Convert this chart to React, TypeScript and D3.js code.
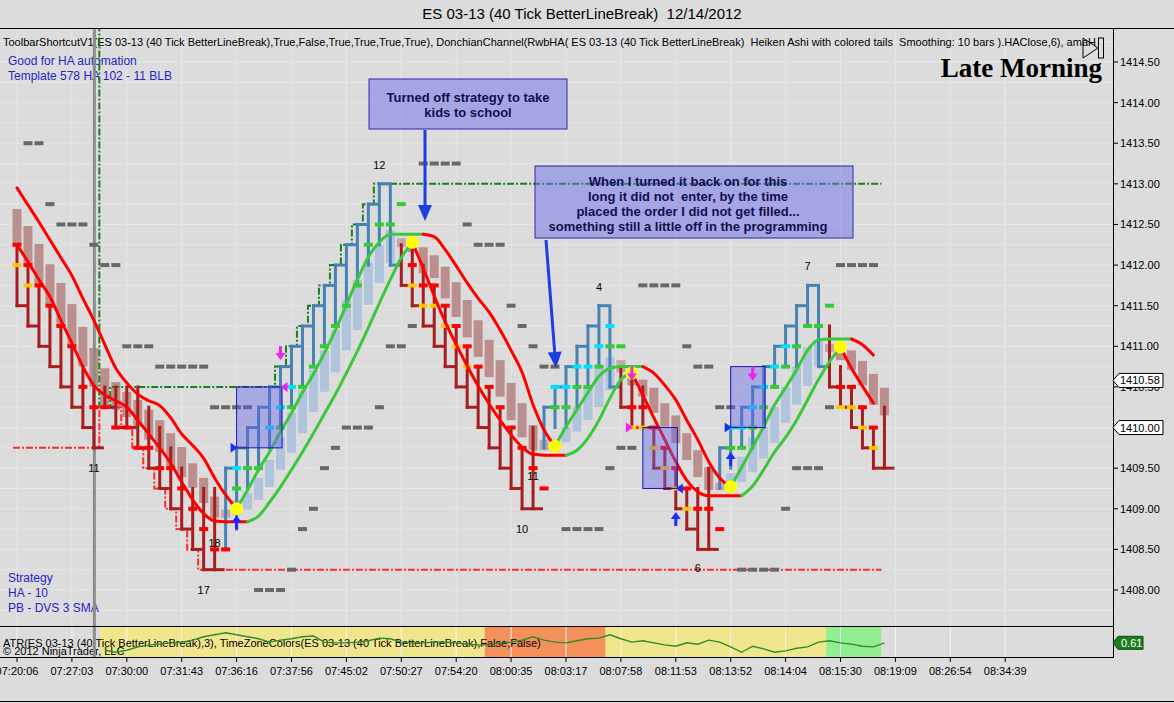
import React, { useEffect } from "react";
import * as d3 from "d3";

const FONT = "'Liberation Sans', Arial, Helvetica, sans-serif";

const chartTitle = "ES 03-13 (40 Tick BetterLineBreak)  12/14/2012";
const infoLine =
  "ToolbarShortcutV1(ES 03-13 (40 Tick BetterLineBreak),True,False,True,True,True,True), DonchianChannel(RwbHA( ES 03-13 (40 Tick BetterLineBreak)  Heiken Ashi with colored tails  Smoothing: 10 bars ).HAClose,6), amaH";
const indicatorLine =
  "ATR(ES 03-13 (40 Tick BetterLineBreak),3), TimeZoneColors(ES 03-13 (40 Tick BetterLineBreak),False,False)";

const timeLabels = [
  "07:20:06", "07:27:03", "07:30:00", "07:31:43", "07:36:16", "07:37:56", "07:45:02",
  "07:50:27", "07:54:20", "08:00:35", "08:03:17", "08:07:58", "08:11:53", "08:13:52",
  "08:14:04", "08:15:30", "08:19:09", "08:26:54", "08:34:39",
];
const priceTicks = [1408, 1408.5, 1409, 1409.5, 1410, 1410.5, 1411, 1411.5, 1412, 1412.5, 1413, 1413.5, 1414, 1414.5];

// Line break bars
const lbHigh = [
  1412.25, 1412.0, 1411.75, 1411.5, 1411.25, 1411.0, 1410.75, 1410.5, 1410.5, 1410.5,
  1410.5, 1410.5, 1410.25, 1410.0, 1409.75, 1409.5, 1409.25, 1409.25, 1409.25, 1409.5,
  1409.75, 1410.0, 1410.25, 1410.5, 1410.75, 1411.0, 1411.25, 1411.5, 1411.75, 1412.0,
  1412.25, 1412.5, 1412.75, 1413.0, 1413.0, 1412.25, 1412.25, 1412.0, 1411.75, 1411.5,
  1411.25, 1411.0, 1410.75, 1410.5, 1410.25, 1410.0, 1409.75, 1410.0, 1410.25, 1410.5,
  1410.75, 1411.0, 1411.25, 1411.5, 1411.5, 1410.75, 1410.75, 1410.5, 1410.0, 1409.75,
  1409.5, 1409.25, 1409.25, 1409.5, 1409.75, 1410.0, 1410.25, 1410.5, 1410.75, 1411.0,
  1411.25, 1411.5, 1411.75, 1411.75, 1411.25, 1410.75, 1410.5, 1410.25, 1410.0, 1410.25,
];
const lbLow = [
  1411.5, 1411.25, 1411.0, 1410.75, 1410.5, 1410.25, 1410.0, 1409.75, 1410.25, 1410.0,
  1410.0, 1409.75, 1409.5, 1409.25, 1409.0, 1408.75, 1408.5, 1408.25, 1408.25, 1408.5,
  1408.75, 1409.25, 1409.5, 1409.75, 1410.0, 1410.25, 1410.5, 1410.75, 1411.0, 1411.25,
  1411.5, 1411.75, 1412.0, 1412.25, 1412.0, 1411.75, 1411.5, 1411.25, 1411.0, 1410.75,
  1410.5, 1410.25, 1410.0, 1409.75, 1409.5, 1409.25, 1409.0, 1409.0, 1409.75, 1410.0,
  1410.0, 1410.25, 1410.5, 1410.75, 1410.5, 1410.25, 1410.0, 1410.0, 1409.5, 1409.25,
  1409.0, 1408.75, 1408.5, 1408.5, 1409.25, 1409.5, 1409.75, 1409.75, 1410.0, 1410.5,
  1410.75, 1410.75, 1411.25, 1410.75, 1410.5, 1410.25, 1410.0, 1409.75, 1409.5, 1409.5,
];
// d = down bar, u = up bar, r = up-coloured bar closing at its low
const lbType =
  "ddddddddddddddddddd" + "uuuuuuuuuuuuuuur" + "ddddddddddddd" + "uuuuuur" + "ddddddddd" + "uuuuuuuuur" + "dddddd";

// Heiken Ashi bodies
const haTop = [
  1412.69, 1412.48, 1412.26, 1412.01, 1411.78, 1411.52, 1411.24, 1410.98, 1410.73, 1410.56,
  1410.44, 1410.34, 1410.22, 1410.09, 1409.93, 1409.76, 1409.56, 1409.38, 1409.15, 1408.99,
  1409.11, 1409.19, 1409.38, 1409.6, 1409.88, 1410.18, 1410.46, 1410.71, 1410.95, 1411.2,
  1411.57, 1411.82, 1412.03, 1412.25, 1412.43, 1412.33, 1412.27, 1412.22, 1412.12, 1411.98,
  1411.79, 1411.57, 1411.32, 1411.08, 1410.83, 1410.55, 1410.3, 1410.03, 1409.85, 1409.85,
  1410.01, 1410.25, 1410.5, 1410.75, 1410.87, 1410.83, 1410.67, 1410.59, 1410.49, 1410.3,
  1410.15, 1409.93, 1409.72, 1409.51, 1409.32, 1409.44, 1409.64, 1409.88, 1410.01, 1410.25,
  1410.5, 1410.75, 1410.99, 1411.08, 1411.03, 1411.02, 1410.95, 1410.82, 1410.66, 1410.49,
];
const haBot = [
  1412.25, 1412.0, 1411.76, 1411.5, 1411.24, 1410.99, 1410.75, 1410.5, 1410.25, 1410.22,
  1410.13, 1410.01, 1409.85, 1409.7, 1409.51, 1409.39, 1409.26, 1409.07, 1408.89, 1408.89,
  1408.92, 1408.99, 1409.11, 1409.27, 1409.48, 1409.69, 1409.93, 1410.19, 1410.44, 1410.68,
  1410.95, 1411.2, 1411.51, 1411.78, 1412.03, 1412.22, 1412.16, 1411.9, 1411.84, 1411.59,
  1411.36, 1411.11, 1410.87, 1410.62, 1410.38, 1410.09, 1409.88, 1409.72, 1409.72, 1409.7,
  1409.82, 1409.95, 1410.09, 1410.25, 1410.46, 1410.68, 1410.52, 1410.38, 1410.18, 1410.01,
  1409.81, 1409.6, 1409.39, 1409.23, 1409.23, 1409.27, 1409.33, 1409.45, 1409.62, 1409.81,
  1410.06, 1410.28, 1410.51, 1410.75, 1410.93, 1410.83, 1410.71, 1410.52, 1410.28, 1410.15,
];
const haType =
  "ddddddddddddddddddd" + "n" + "uuuuuuuuuuuuuuu" + "n" + "dddddddddddd" + "n" + "uuuuuu" + "n" +
  "dddddddd" + "n" + "uuuuuuuuu" + "n" + "ddddd";

// Two smoothed lines (coloured by slope)
const upperLine = [
  1412.95, 1412.74, 1412.53, 1412.31, 1412.09, 1411.87, 1411.59, 1411.32, 1411.02, 1410.73,
  1410.55, 1410.41, 1410.33, 1410.27, 1410.12, 1409.92, 1409.78, 1409.62, 1409.38, 1409.17,
  1409.0, 1409.23, 1409.48, 1409.7, 1409.95, 1410.18, 1410.43, 1410.66, 1410.92, 1411.2,
  1411.51, 1411.82, 1412.1, 1412.28, 1412.38, 1412.38, 1412.38, 1412.38, 1412.35, 1412.19,
  1411.99, 1411.78, 1411.59, 1411.42, 1411.2, 1410.95, 1410.68, 1410.28, 1409.97, 1409.77,
  1410.01, 1410.22, 1410.43, 1410.63, 1410.73, 1410.75, 1410.75, 1410.75, 1410.67, 1410.52,
  1410.34, 1410.09, 1409.85, 1409.58, 1409.38, 1409.27, 1409.51, 1409.76, 1410.01, 1410.28,
  1410.49, 1410.71, 1410.95, 1411.08, 1411.09, 1411.09, 1411.09, 1411.02, 1410.89,
];
const lowerLine = [
  1412.25, 1412.04, 1411.82, 1411.61, 1411.32, 1411.04, 1410.75, 1410.52, 1410.4, 1410.33,
  1410.25, 1410.09, 1409.92, 1409.75, 1409.56, 1409.33, 1409.11, 1408.94, 1408.85, 1408.84,
  1408.84, 1408.84, 1408.91, 1409.08, 1409.27, 1409.48, 1409.7, 1409.93, 1410.17, 1410.41,
  1410.67, 1410.94, 1411.23, 1411.53, 1411.82, 1412.09, 1412.28, 1411.96, 1411.62, 1411.3,
  1411.02, 1410.76, 1410.51, 1410.29, 1410.09, 1409.91, 1409.76, 1409.67, 1409.66, 1409.66,
  1409.66, 1409.72, 1409.87, 1410.09, 1410.36, 1410.59, 1410.67, 1410.4, 1410.12, 1409.85,
  1409.58, 1409.35, 1409.21, 1409.16, 1409.16, 1409.16, 1409.16, 1409.28, 1409.48, 1409.7,
  1409.88, 1410.09, 1410.34, 1410.59, 1410.81, 1410.99, 1410.73, 1410.51, 1410.3,
];

// Donchian channel steps: [first bar, value]
const donchianUpper: [number, number][] = [
  [0, 1415.5], [8, 1410.25], [9, 1410.5], [24, 1410.75], [25, 1411.0], [26, 1411.25], [27, 1411.5],
  [28, 1411.75], [29, 1412.0], [30, 1412.25], [31, 1412.5], [32, 1412.75], [33, 1413.0],
];
const donchianLower: [number, number][] = [
  [0, 1409.75], [8, 1410.25], [10, 1410.0], [11, 1409.75], [12, 1409.5], [13, 1409.25],
  [14, 1409.0], [15, 1408.75], [16, 1408.5], [17, 1408.25],
];
const donchianEndBar = 79;

// ATR values from bar 8 to bar 79
const atrStart = 8;
const atrValues = [
  0.5, 0.47, 0.5, 0.55, 0.58, 0.59, 0.61, 0.62, 0.65, 0.7, 0.73, 0.76, 0.73, 0.7, 0.67, 0.62,
  0.65, 0.67, 0.7, 0.71, 0.62, 0.61, 0.61, 0.62, 0.64, 0.68, 0.67, 0.62, 0.61, 0.61, 0.62, 0.62,
  0.61, 0.59, 0.58, 0.58, 0.61, 0.62, 0.65, 0.7, 0.65, 0.62, 0.61, 0.64, 0.67, 0.68, 0.73, 0.67,
  0.62, 0.64, 0.61, 0.58, 0.56, 0.61, 0.59, 0.65, 0.62, 0.55, 0.47, 0.56, 0.52, 0.47, 0.49, 0.53,
  0.55, 0.62, 0.64, 0.61, 0.59, 0.56, 0.55, 0.61,
];
const atrLast = 0.61;

// Time zone colours in the indicator panel (bar-index edges)
const zoneEdges = [7.56, 42.6, 53.6, 73.7, 78.7];
const zoneColors = ["#f0e68c", "#f4915a", "#f0e68c", "#90ee90"];

// Coloured markers [bar, price, colour]
const markers: [number, number, string][] = [
  [0, 1412.25, "r"], [1, 1412.0, "r"], [2, 1411.75, "r"], [3, 1411.5, "r"], [4, 1411.25, "r"], [5, 1411.0, "r"],
  [6, 1410.5, "r"], [7, 1410.25, "r"], [8, 1410.25, "r"], [9, 1410.0, "r"], [10, 1410.0, "r"], [11, 1409.75, "r"],
  [12, 1409.75, "r"], [13, 1409.5, "r"], [14, 1409.5, "r"], [15, 1409.25, "r"], [16, 1409.0, "r"], [17, 1408.75, "r"],
  [18, 1408.5, "r"], [19, 1408.5, "r"], [0, 1412.0, "y"], [1, 1411.75, "y"],
  [20, 1409.25, "g"], [20, 1409.5, "c"], [21, 1409.5, "g"], [22, 1409.5, "g"], [23, 1410.0, "c"], [24, 1410.0, "g"],
  [24, 1410.25, "c"], [25, 1410.25, "g"], [25, 1410.5, "c"], [26, 1410.5, "g"], [27, 1410.75, "g"], [28, 1411.0, "g"],
  [29, 1411.25, "g"], [30, 1411.5, "g"], [31, 1411.75, "g"], [32, 1412.25, "g"], [33, 1412.5, "g"], [34, 1412.5, "g"],
  [35, 1412.75, "g"],
  [36, 1412.0, "r"], [36, 1411.75, "y"], [37, 1411.75, "r"], [37, 1411.5, "y"], [38, 1411.75, "r"], [38, 1411.5, "y"],
  [39, 1411.5, "r"], [39, 1411.25, "y"], [40, 1411.25, "r"], [40, 1411.0, "y"], [41, 1411.0, "r"], [41, 1410.75, "y"],
  [42, 1410.75, "r"], [43, 1410.5, "r"], [44, 1410.25, "r"], [45, 1410.0, "r"], [46, 1409.75, "r"], [47, 1409.5, "r"],
  [48, 1409.25, "r"],
  [49, 1410.25, "g"], [49, 1410.5, "c"], [50, 1410.25, "g"], [50, 1410.5, "c"], [51, 1410.5, "g"], [51, 1410.75, "c"],
  [52, 1410.5, "g"], [52, 1410.75, "c"], [53, 1410.75, "g"], [53, 1411.0, "c"], [54, 1411.0, "g"], [54, 1411.25, "c"],
  [55, 1411.0, "g"],
  [56, 1410.25, "r"], [56, 1410.0, "y"], [57, 1410.25, "r"], [57, 1410.0, "y"], [58, 1410.0, "r"], [58, 1409.75, "y"],
  [59, 1409.75, "r"], [59, 1409.5, "y"], [60, 1409.5, "r"], [60, 1409.25, "y"], [61, 1409.25, "r"], [61, 1409.0, "y"],
  [62, 1409.0, "r"], [63, 1409.0, "r"], [64, 1408.75, "r"],
  [65, 1409.75, "g"], [65, 1410.0, "c"], [66, 1409.75, "g"], [66, 1410.0, "c"], [67, 1410.0, "g"], [67, 1410.25, "c"],
  [68, 1410.25, "g"], [68, 1410.5, "c"], [69, 1410.5, "g"], [69, 1410.75, "c"], [70, 1410.75, "g"], [70, 1411.0, "c"],
  [71, 1411.0, "g"], [72, 1411.25, "g"], [73, 1411.25, "g"], [74, 1411.5, "g"],
  [75, 1410.5, "r"], [75, 1410.25, "y"], [76, 1410.5, "r"], [76, 1410.25, "y"], [77, 1410.25, "r"], [77, 1410.0, "y"],
  [78, 1410.0, "r"], [78, 1409.75, "y"],
];

// Gray level markers [bar, price]
const grayMarks: [number, number][] = [
  [1, 1413.5], [2, 1413.5], [3, 1412.75], [4, 1412.5], [5, 1412.5], [6, 1412.5], [7, 1412.25], [8, 1412.0],
  [9, 1412.0], [10, 1411.0], [11, 1411.0], [12, 1411.0], [13, 1410.75], [14, 1410.75], [15, 1410.75], [16, 1410.75],
  [17, 1410.75], [18, 1410.25], [19, 1410.25], [20, 1410.25], [21, 1410.25], [22, 1408.0], [23, 1408.0], [24, 1408.0],
  [25, 1408.25], [26, 1408.75], [27, 1409.0], [28, 1409.5], [29, 1409.75], [30, 1410.0], [31, 1410.0], [32, 1410.0],
  [33, 1410.25], [34, 1411.0], [35, 1411.0], [36, 1411.25], [37, 1413.25], [38, 1413.25], [39, 1413.25], [40, 1413.25],
  [41, 1412.5], [42, 1412.25], [43, 1412.25], [44, 1412.25], [45, 1411.5], [46, 1411.25], [47, 1411.0], [48, 1410.75],
  [49, 1410.75], [50, 1408.75], [51, 1408.75], [52, 1408.75], [53, 1408.75], [54, 1409.5], [55, 1409.75], [56, 1409.75],
  [57, 1411.75], [58, 1411.75], [59, 1411.75], [60, 1411.75], [61, 1411.0], [62, 1410.75], [63, 1410.75], [64, 1410.25],
  [65, 1410.25], [66, 1408.25], [67, 1408.25], [68, 1408.25], [69, 1408.25], [70, 1409.0], [71, 1409.5], [72, 1409.5],
  [73, 1409.5], [74, 1410.25], [75, 1412.0], [76, 1412.0], [77, 1412.0], [78, 1412.0],
];

const swingLabels: [number, number, string][] = [
  [33, 1413.23, "12"], [7, 1409.5, "11"], [18, 1408.58, "18"], [17, 1408.0, "17"], [46, 1408.75, "10"],
  [47, 1409.4, "11"], [53, 1411.73, "4"], [62, 1408.27, "6"], [72, 1411.99, "7"],
];
const yellowDots: [number, string][] = [[20, "U"], [36, "L"], [49, "U"], [56, "L"], [65, "U"], [75, "L"]];
const tradeBoxes: [number, number, number, number][] = [
  [20, 24, 1409.75, 1410.5], [57, 60, 1409.25, 1410.0], [65, 68, 1410.0, 1410.75],
];
const upArrows: [number, number][] = [[20, 1408.92], [60, 1408.96], [65, 1409.7]];
const downArrows: [number, number][] = [[24, 1410.83], [56, 1410.58], [67, 1410.58]];
const triangles: [number, number, string, string][] = [
  [20, 1409.75, "R", "#1a2cff"], [60, 1409.25, "L", "#1a2cff"], [65, 1410.0, "R", "#1a2cff"],
  [24, 1410.5, "L", "#ee22ee"], [56, 1410.0, "R", "#ee22ee"],
];
const sessionBreakBar = 7;
const priceFlags = [1410.58, 1410.0];

const note1 = ["Turned off strategy to take", "kids to school"];
const note2 = [
  "When I turned it back on for this",
  "long it did not  enter, by the time",
  "placed the order I did not get filled...",
  "something still a little off in the programming",
];
const topNotes = ["Good for HA automation", "Template 578 HA 102 - 11 BLB"];
const bottomNotes = ["Strategy", "HA - 10", "PB - DVS 3 SMA"];

// ---------- scales ----------
const X0 = 17;
const DX = 10.98;
const xScale = d3.scaleLinear().domain([0, 90]).range([X0, X0 + 90 * DX]);
const yScale = d3.scaleLinear().domain([1408, 1414.5]).range([590, 62]);
const atrScale = d3.scaleLinear().domain([0.4, 0.8]).range([657, 630]);

const PLOT_R = 1113;
const PLOT_T = 28;
const PLOT_B = 626;
const IND_B = 657;

const markerColor: Record<string, string> = { r: "#ff0000", y: "#ffc800", g: "#33cc33", c: "#00e0ff" };
const haColor: Record<string, string> = { d: "#bc8f8f", u: "#b0c4de", n: "#c6a6a6" };

function colorRuns(vals: number[]) {
  const runs: { color: string; pts: [number, number][] }[] = [];
  let cur = { color: vals[1] < vals[0] ? "#ff0000" : "#3cc83c", pts: [[0, vals[0]]] as [number, number][] };
  for (let i = 1; i < vals.length; i++) {
    const d = vals[i] - vals[i - 1];
    const c = d < 0 ? "#ff0000" : d > 0 ? "#3cc83c" : cur.color;
    if (c !== cur.color) {
      runs.push(cur);
      cur = { color: c, pts: [[i - 1, vals[i - 1]]] };
    }
    cur.pts.push([i, vals[i]]);
  }
  runs.push(cur);
  return runs;
}

const lineGen = d3
  .line<[number, number]>()
  .x((d) => xScale(d[0]))
  .y((d) => yScale(d[1]))
  .curve(d3.curveMonotoneX);

function stepPath(steps: [number, number][], endBar: number) {
  let d = "";
  steps.forEach(([b, v], j) => {
    const xs = j === 0 ? xScale(b) - 4 : xScale(b) - 5.5;
    const xe = j < steps.length - 1 ? xScale(steps[j + 1][0]) - 5.5 : xScale(endBar) - 3;
    d += (j === 0 ? "M" : "L") + xs + "," + yScale(v) + "L" + xe + "," + yScale(v);
  });
  return d;
}

const atrLine = d3
  .line<number>()
  .x((_, i) => xScale(i + atrStart))
  .y((v) => atrScale(v))
  .curve(d3.curveLinear);

export default function App() {
  useEffect(() => {
    document.body.style.margin = "0";
  }, []);

  const gridPrices = d3.range(1407.75, 1415.01, 0.25);
  const timeIdx = timeLabels.map((_, k) => k * 5);

  const arrow1 = { x1: 425, y1: 130, x2: 425, y2: 221 };
  const arrow2 = { x1: 546, y1: 240, x2: 556, y2: 368 };
  const head = (a: { x1: number; y1: number; x2: number; y2: number }) => {
    const dx = a.x2 - a.x1, dy = a.y2 - a.y1;
    const L = Math.hypot(dx, dy);
    const ux = dx / L, uy = dy / L;
    const bx = a.x2 - ux * 16, by = a.y2 - uy * 16;
    return `${a.x2},${a.y2} ${bx - uy * 7},${by + ux * 7} ${bx + uy * 7},${by - ux * 7}`;
  };

  return (
    <svg
      width={1174}
      height={703}
      style={{ position: "absolute", left: 0, top: 0, display: "block" }}
      fontFamily={FONT}
    >
      <defs>
        <clipPath id="plotClip">
          <rect x={0} y={PLOT_T} width={PLOT_R} height={PLOT_B - PLOT_T} />
        </clipPath>
        <clipPath id="indClip">
          <rect x={0} y={PLOT_B} width={PLOT_R} height={IND_B - PLOT_B} />
        </clipPath>
      </defs>
      <rect x={0} y={0} width={1174} height={703} fill="#dcdcdc" />

      {/* title */}
      <text x={582} y={19} fontSize={15} textAnchor="middle" fill="#000" style={{ whiteSpace: "pre" }}>
        {chartTitle}
      </text>

      {/* indicator panel */}
      <g clipPath="url(#indClip)">
        {zoneColors.map((c, k) => (
          <rect
            key={k}
            x={xScale(zoneEdges[k])}
            y={PLOT_B}
            width={xScale(zoneEdges[k + 1]) - xScale(zoneEdges[k])}
            height={IND_B - PLOT_B}
            fill={c}
          />
        ))}
        {timeIdx.map((i) => (
          <line key={i} x1={xScale(i)} x2={xScale(i)} y1={PLOT_B} y2={IND_B} stroke="#f4f4f4" strokeWidth={1} />
        ))}
        <text x={3} y={647} fontSize={11} fill="#000" style={{ whiteSpace: "pre" }}>
          {indicatorLine}
        </text>
        <text x={3} y={655} fontSize={11} fill="#000">
          © 2012 NinjaTrader, LLC
        </text>
        <path d={atrLine(atrValues) || ""} fill="none" stroke="#2e8b2e" strokeWidth={1.4} />
      </g>

      <g clipPath="url(#plotClip)">
        {/* grid */}
        {gridPrices.map((p) => (
          <line key={p} x1={0} x2={PLOT_R} y1={yScale(p)} y2={yScale(p)} stroke="#e6e6e6" strokeWidth={1} />
        ))}
        {timeIdx.map((i) => (
          <line key={i} x1={xScale(i)} x2={xScale(i)} y1={PLOT_T} y2={PLOT_B} stroke="#e6e6e6" strokeWidth={1} />
        ))}

        {/* info texts */}
        <text x={3} y={46} fontSize={11} fill="#000" style={{ whiteSpace: "pre" }}>
          {infoLine}
        </text>
        {topNotes.map((t, k) => (
          <text key={t} x={8} y={65 + k * 15} fontSize={12} fill="#2424c8">
            {t}
          </text>
        ))}
        {bottomNotes.map((t, k) => (
          <text key={t} x={8} y={582 + k * 15} fontSize={12} fill="#2424c8">
            {t}
          </text>
        ))}

        {/* Heiken Ashi bodies */}
        {haTop.map((t, i) => (
          <rect
            key={i}
            x={xScale(i) - 4.5}
            y={yScale(t)}
            width={9}
            height={Math.max(2, yScale(haBot[i]) - yScale(t))}
            fill={haColor[haType[i]]}
          />
        ))}

        {/* Donchian channel */}
        <path d={stepPath(donchianUpper, donchianEndBar)} fill="none" stroke="#1a801a" strokeWidth={2} strokeDasharray="7,2,2,2" />
        <path d={stepPath(donchianLower, donchianEndBar)} fill="none" stroke="#ff2a2a" strokeWidth={2} strokeDasharray="7,2,2,2" />

        {/* session break */}
        <line
          x1={xScale(sessionBreakBar) + 0.5}
          x2={xScale(sessionBreakBar) + 0.5}
          y1={PLOT_T}
          y2={PLOT_B}
          stroke="#8c8c8c"
          strokeWidth={3}
        />

        {/* gray markers */}
        {grayMarks.map(([i, p], k) => (
          <rect key={k} x={xScale(i) - 4.5} y={yScale(p) - 2} width={9} height={4} fill="#686868" />
        ))}

        {/* line break bars */}
        {lbHigh.map((h, i) => {
          const t = lbType[i];
          const col = t === "d" ? "#a81e1e" : "#4682b4";
          const x = xScale(i);
          const close = t === "u" ? h : lbLow[i];
          return (
            <g key={i}>
              <line x1={x} x2={x} y1={yScale(h) - 1.5} y2={yScale(lbLow[i]) + 1.5} stroke={col} strokeWidth={3} />
              <line x1={x - 1.5} x2={x + DX - 1} y1={yScale(close)} y2={yScale(close)} stroke={col} strokeWidth={3} />
            </g>
          );
        })}

        {/* coloured markers */}
        {markers.map(([i, p, c], k) => (
          <rect key={k} x={xScale(i) - 4.5} y={yScale(p) - 2} width={9} height={4} fill={markerColor[c]} />
        ))}

        {/* smoothed lines */}
        {[upperLine, lowerLine].map((vals, li) =>
          colorRuns(vals).map((r, k) => (
            <path
              key={li + "-" + k}
              d={lineGen(r.pts) || ""}
              fill="none"
              stroke={r.color}
              strokeWidth={3}
              strokeLinecap="round"
            />
          ))
        )}

        {/* trade boxes */}
        {tradeBoxes.map(([a, b, lo, hi], k) => (
          <rect
            key={k}
            x={xScale(a)}
            y={yScale(hi)}
            width={xScale(b) + 1.5 - xScale(a)}
            height={yScale(lo) - yScale(hi)}
            fill="rgba(100,100,235,0.42)"
            stroke="#1414b4"
            strokeWidth={1}
          />
        ))}

        {/* yellow dots */}
        {yellowDots.map(([i, w], k) => (
          <circle
            key={k}
            cx={xScale(i)}
            cy={yScale(w === "U" ? upperLine[i] : lowerLine[i])}
            r={6.5}
            fill="#ffff00"
          />
        ))}

        {/* arrows */}
        {upArrows.map(([i, p], k) => {
          const x = xScale(i), t = yScale(p);
          return (
            <g key={k} fill="#1a2cff">
              <polygon points={`${x},${t} ${x - 5},${t + 7} ${x + 5},${t + 7}`} />
              <rect x={x - 1.5} y={t + 6} width={3} height={8} />
            </g>
          );
        })}
        {downArrows.map(([i, p], k) => {
          const x = xScale(i), t = yScale(p);
          return (
            <g key={k} fill="#ee22ee">
              <polygon points={`${x},${t} ${x - 5},${t - 7} ${x + 5},${t - 7}`} />
              <rect x={x - 1.5} y={t - 14} width={3} height={8} />
            </g>
          );
        })}
        {triangles.map(([i, p, dir, c], k) => {
          const x = xScale(i), y = yScale(p);
          const pts =
            dir === "R"
              ? `${x + 1},${y} ${x - 6},${y - 5} ${x - 6},${y + 5}`
              : `${x},${y} ${x + 7},${y - 5} ${x + 7},${y + 5}`;
          return <polygon key={k} points={pts} fill={c} />;
        })}

        {/* swing labels */}
        {swingLabels.map(([i, p, t], k) => (
          <text key={k} x={xScale(i)} y={yScale(p) + 4} fontSize={11} textAnchor="middle" fill="#000">
            {t}
          </text>
        ))}

        {/* annotation callouts */}
        <rect x={369} y={79} width={198} height={50} fill="rgba(110,110,235,0.5)" stroke="#2a2aaa" strokeWidth={1} />
        {note1.map((t, k) => (
          <text key={t} x={468} y={101.5 + k * 15} fontSize={13} fontWeight="bold" textAnchor="middle" fill="#10104e">
            {t}
          </text>
        ))}
        <line x1={arrow1.x1} y1={arrow1.y1} x2={arrow1.x2} y2={arrow1.y2 - 12} stroke="#1f3ee0" strokeWidth={3} />
        <polygon points={head(arrow1)} fill="#1f3ee0" />

        <rect x={535} y={166} width={318} height={72} fill="rgba(110,110,235,0.5)" stroke="#2a2aaa" strokeWidth={1} />
        {note2.map((t, k) => (
          <text
            key={t}
            x={688}
            y={185.5 + k * 15}
            fontSize={13}
            fontWeight="bold"
            textAnchor="middle"
            fill="#10104e"
            style={{ whiteSpace: "pre" }}
          >
            {t}
          </text>
        ))}
        <line x1={arrow2.x1} y1={arrow2.y1} x2={arrow2.x2 - 1} y2={arrow2.y2 - 12} stroke="#1f3ee0" strokeWidth={3} />
        <polygon points={head(arrow2)} fill="#1f3ee0" />

        {/* Late Morning + icon */}
        <text x={1102} y={77} fontSize={27} fontWeight="bold" textAnchor="end" fill="#000" fontFamily="'Liberation Serif', 'Times New Roman', serif">
          Late Morning
        </text>
        <polygon points="1083,38 1098,48 1083,58" fill="none" stroke="#000" strokeWidth={1} />
        <rect x={1098.5} y={38} width={5} height={20} fill="none" stroke="#000" strokeWidth={1} />
      </g>

      {/* session break through indicator */}
      <line
        x1={xScale(sessionBreakBar) + 0.5}
        x2={xScale(sessionBreakBar) + 0.5}
        y1={PLOT_B}
        y2={IND_B}
        stroke="#8c8c8c"
        strokeWidth={3}
      />

      {/* frame */}
      <line x1={0} x2={1174} y1={PLOT_T + 0.5} y2={PLOT_T + 0.5} stroke="#000" strokeWidth={1} />
      <line x1={0} x2={PLOT_R} y1={PLOT_B + 0.5} y2={PLOT_B + 0.5} stroke="#000" strokeWidth={1} />
      <line x1={0} x2={PLOT_R} y1={IND_B + 0.5} y2={IND_B + 0.5} stroke="#000" strokeWidth={1} />
      <line x1={PLOT_R + 0.5} x2={PLOT_R + 0.5} y1={PLOT_T} y2={IND_B + 1} stroke="#000" strokeWidth={1} />
      <line x1={0} x2={1174} y1={701.5} y2={701.5} stroke="#000" strokeWidth={1} />

      {/* price axis */}
      {priceTicks.map((p) => (
        <g key={p}>
          <line x1={PLOT_R} x2={PLOT_R + 5} y1={yScale(p)} y2={yScale(p)} stroke="#000" strokeWidth={1} />
          <text x={PLOT_R + 7} y={yScale(p) + 4} fontSize={11} fill="#000">
            {d3.format(".2f")(p)}
          </text>
        </g>
      ))}
      {priceFlags.map((p) => {
        const y = yScale(p);
        return (
          <g key={p}>
            <polygon
              points={`${PLOT_R},${y} ${PLOT_R + 6},${y - 7} ${PLOT_R + 50},${y - 7} ${PLOT_R + 50},${y + 7} ${PLOT_R + 6},${y + 7}`}
              fill="#ffffff"
              stroke="#000"
              strokeWidth={1}
            />
            <text x={PLOT_R + 7} y={y + 4} fontSize={11} fill="#000">
              {d3.format(".2f")(p)}
            </text>
          </g>
        );
      })}
      {/* ATR flag */}
      <g>
        <polygon
          points={`${PLOT_R},${atrScale(atrLast)} ${PLOT_R + 5},${atrScale(atrLast) - 6.5} ${PLOT_R + 30},${atrScale(atrLast) - 6.5} ${PLOT_R + 30},${atrScale(atrLast) + 6.5} ${PLOT_R + 5},${atrScale(atrLast) + 6.5}`}
          fill="#1e7d1e"
          stroke="#0a4a0a"
          strokeWidth={1}
        />
        <text x={PLOT_R + 8} y={atrScale(atrLast) + 4} fontSize={11} fill="#ffffff">
          {d3.format(".2f")(atrLast)}
        </text>
      </g>

      {/* time axis */}
      {timeLabels.map((t, k) => {
        const x = xScale(k * 5);
        return (
          <g key={t}>
            <line x1={x} x2={x} y1={IND_B} y2={IND_B + 5} stroke="#000" strokeWidth={1} />
            <text x={x} y={675} fontSize={11} textAnchor="middle" fill="#000">
              {t}
            </text>
          </g>
        );
      })}
    </svg>
  );
}
